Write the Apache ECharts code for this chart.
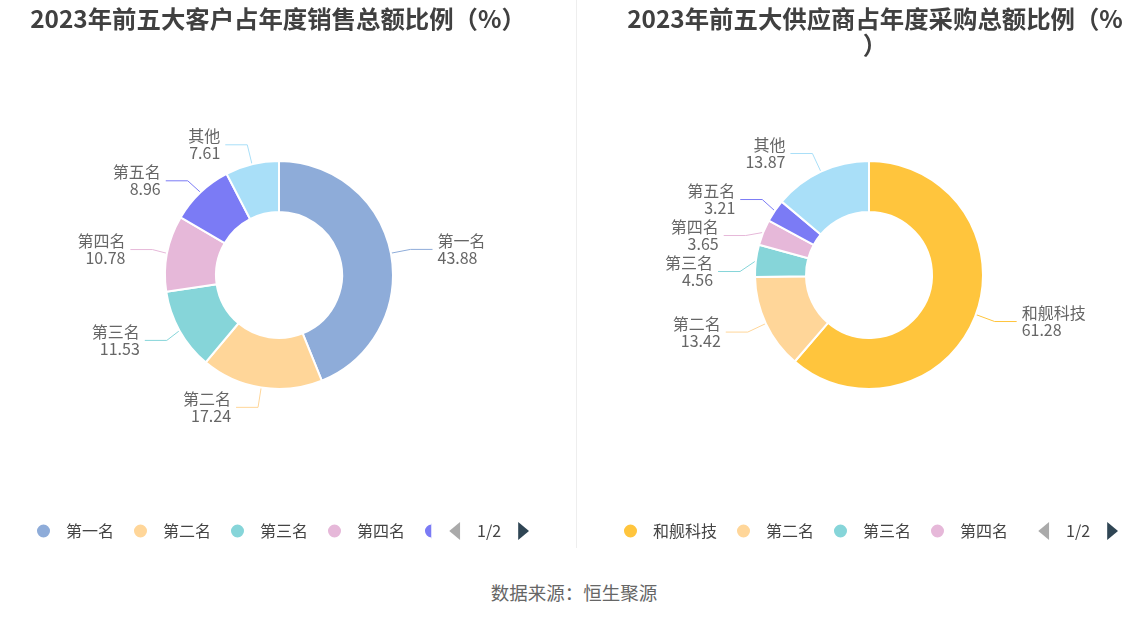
<!DOCTYPE html>
<html><head><meta charset="utf-8">
<script src="https://cdn.jsdelivr.net/npm/echarts@6/dist/echarts.min.js"></script>
<style>
html,body{margin:0;padding:0;background:#fff;width:1148px;height:619px;overflow:hidden;font-family:"Noto Sans CJK SC",sans-serif;}
#c1{position:absolute;left:0;top:0;width:574px;height:550px;}
#c2{position:absolute;left:576px;top:0;width:572px;height:550px;}
#sep{position:absolute;left:576px;top:0;width:1px;height:548px;background:#eeeeee;}
#src{position:absolute;left:0;width:1148px;top:579px;text-align:center;font-size:18.5px;color:#666;}
</style></head><body>
<div id="c1"></div><div id="sep"></div><div id="c2"></div>
<div id="src">数据来源：恒生聚源</div>
<script>
const title1 = '2023年前五大客户占年度销售总额比例（%）';
const title2 = '2023年前五大供应商占年度采购总额比例（%\n）';
const names1 = ['第一名','第二名','第三名','第四名','第五名','其他'];
const values1 = [43.88,17.24,11.53,10.78,8.96,7.61];
const colors1 = ['#8eacd9','#ffd699','#86d5d9','#e6b8d9','#7b7bf5','#a9dff8'];
const names2 = ['和舰科技','第二名','第三名','第四名','第五名','其他'];
const values2 = [61.28,13.42,4.56,3.65,3.21,13.87];
const colors2 = ['#ffc53d','#ffd699','#86d5d9','#e6b8d9','#7b7bf5','#a9dff8'];
const FONT = '"Noto Sans CJK SC", sans-serif';
function opt(title, titleX, names, values, colors, cx, legLeft, legWidth){
  return {
    color: colors,
    title: {text: title, left: titleX, top: 1, textAlign: 'center',
      textStyle:{fontSize:24.4, fontWeight:'bold', color:'#404040', fontFamily:FONT, lineHeight:26}},
    legend: {type:'scroll', left: legLeft, width: legWidth, bottom: 5, icon:'circle',
      itemWidth:15, itemHeight:15, itemGap:18,
      textStyle:{fontSize:16, color:'#444', fontFamily:FONT, padding:[0,0,0,10]},
      pageIconColor:'#2f4554', pageIconInactiveColor:'#aaa', pageIconSize:[12,18],
      pageButtonItemGap:10,
      pageTextStyle:{fontSize:16, color:'#444', fontFamily:FONT},
      data: names},
    series: [{type:'pie', center:[cx,275],
      radius:[63,114], startAngle:90,
      itemStyle:{borderColor:'#fff', borderWidth:2},
      label:{formatter:'{b}\n{c}', fontSize:16, lineHeight:17, color:'#666', fontFamily:FONT},
      labelLine:{length:20, length2:22, lineStyle:{width:1}},
      emphasis:{disabled:true},
      data: names.map((n,i)=>({name:n, value:values[i]}))}]
  };
}
const c1 = echarts.init(document.getElementById('c1'));
c1.setOption(opt(title1, 273, names1, values1, colors1, 279, 30, 494));
const c2 = echarts.init(document.getElementById('c2'));
c2.setOption(opt(title2, 294, names2, values2, colors2, 293, 41, 496));
</script></body></html>
